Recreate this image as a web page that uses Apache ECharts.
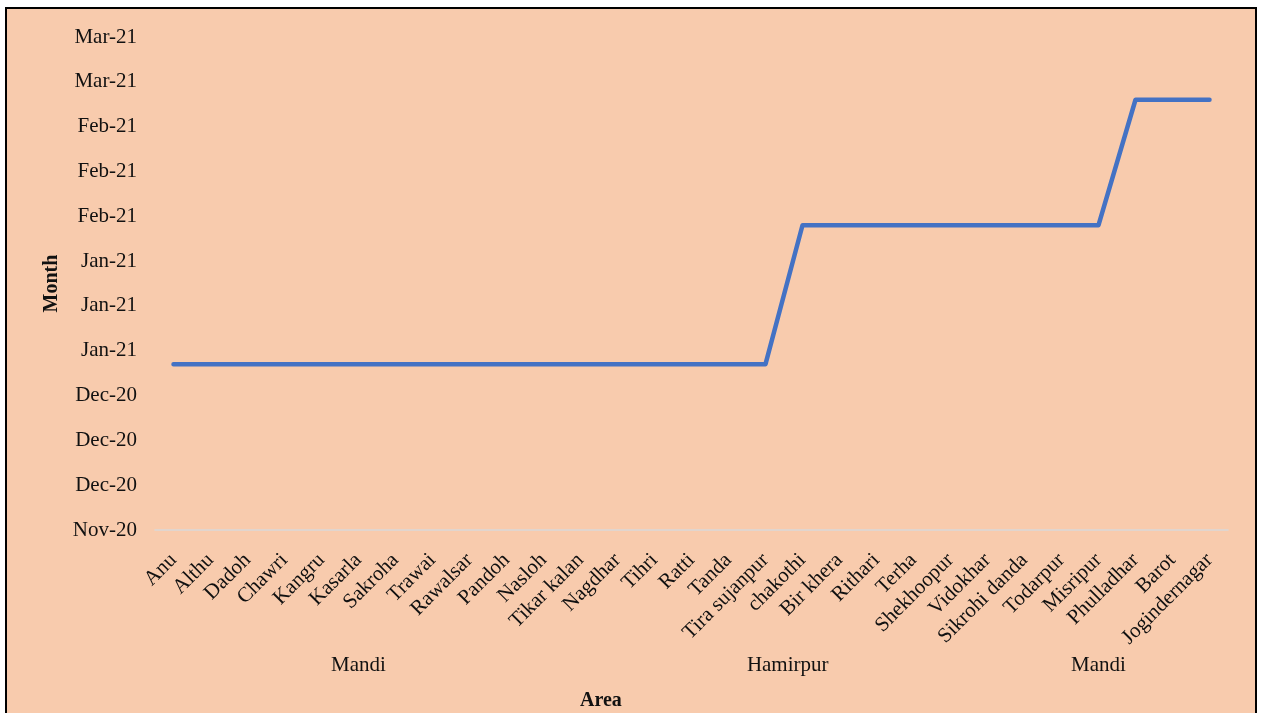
<!DOCTYPE html>
<html><head><meta charset="utf-8">
<script src="https://cdn.jsdelivr.net/npm/echarts@6/dist/echarts.min.js"></script>
<style>html,body{margin:0;padding:0;background:#fff}#c{width:1268px;height:713px}</style>
</head><body><div id="c"></div>
<script>
const areas = ['Anu','Althu','Dadoh','Chawri','Kangru','Kasarla','Sakroha','Trawai','Rawalsar','Pandoh','Nasloh','Tikar kalan','Nagdhar','Tihri','Ratti','Tanda','Tira sujanpur','chakothi','Bir khera','Rithari','Terha','Shekhoopur','Vidokhar','Sikrohi danda','Todarpur','Misripur','Phulladhar','Barot','Jogindernagar'];
const dates = ['2020-12-30','2020-12-30','2020-12-30','2020-12-30','2020-12-30','2020-12-30','2020-12-30','2020-12-30','2020-12-30','2020-12-30','2020-12-30','2020-12-30','2020-12-30','2020-12-30','2020-12-30','2020-12-30','2020-12-30',
  '2021-01-30','2021-01-30','2021-01-30','2021-01-30','2021-01-30','2021-01-30','2021-01-30','2021-01-30','2021-01-30',
  '2021-02-27','2021-02-27','2021-02-27'];
const yTickLabels = ['Nov-20','Dec-20','Dec-20','Dec-20','Jan-21','Jan-21','Jan-21','Feb-21','Feb-21','Feb-21','Mar-21','Mar-21'];
const groupNames = ['Mandi','Hamirpur','Mandi'];
const groupAnchors = [5, 16.6, 25];
const axisStart = '2020-11-23';
const tickDays = 10;

function dayNum(s){const p=s.split('-').map(Number);return Date.UTC(p[0],p[1]-1,p[2])/86400000;}
const yMin = dayNum(axisStart);
const yMax = yMin + tickDays*(yTickLabels.length-1);
const values = dates.map(dayNum);

const FONT = '"Liberation Serif","Times New Roman",serif';
const chart = echarts.init(document.getElementById('c'));
const bg = {type:'rect',z:-10,silent:true,shape:{x:6,y:8,width:1250,height:720},
    style:{fill:'#F8CBAD',stroke:'#000',lineWidth:2}};
const option = {
  backgroundColor:'#fff',
  animation:false,
  grid:{left:155,right:40,top:37,bottom:183},
  xAxis:{type:'category',data:areas,boundaryGap:true,
    axisLine:{lineStyle:{color:'#D9D9D9',width:1.5}},
    axisTick:{show:false},
    axisLabel:{interval:0,rotate:45,margin:27,color:'#111',fontFamily:FONT,fontSize:21}
  },
  yAxis:{type:'value',min:yMin,max:yMax,interval:tickDays,
    axisLine:{show:false},axisTick:{show:false},splitLine:{show:false},
    axisLabel:{margin:18,color:'#111',fontFamily:FONT,fontSize:21,padding:[4,0,0,0],
      formatter:v=>yTickLabels[Math.round((v-yMin)/tickDays)]},
    name:'Month',nameLocation:'middle',nameGap:92,nameRotate:90,
    nameTextStyle:{fontFamily:FONT,fontSize:20,fontWeight:'bold',color:'#111'}
  },
  series:[{type:'line',data:values,showSymbol:false,symbol:'none',
    lineStyle:{color:'#4472C4',width:4.5,cap:'round',join:'round'}}],
  graphic:[bg]
};
chart.setOption(option);

const p0 = chart.convertToPixel({gridIndex:0},[0,yMin]);
const p1 = chart.convertToPixel({gridIndex:0},[1,yMin]);
const step = p1[0]-p0[0];
const g = [bg];
groupNames.forEach((n,i)=>{
  g.push({type:'text',x:p0[0]+groupAnchors[i]*step,y:p0[1]+135,
    style:{text:n,font:'21px '+FONT,fill:'#111',align:'center',verticalAlign:'middle'}});
});
g.push({type:'text',x:p0[0]+11.55*step,y:p0[1]+171,
  style:{text:'Area',font:'bold 20px '+FONT,fill:'#111',align:'center',verticalAlign:'middle'}});
chart.setOption({graphic:g},{replaceMerge:['graphic']});
</script></body></html>
